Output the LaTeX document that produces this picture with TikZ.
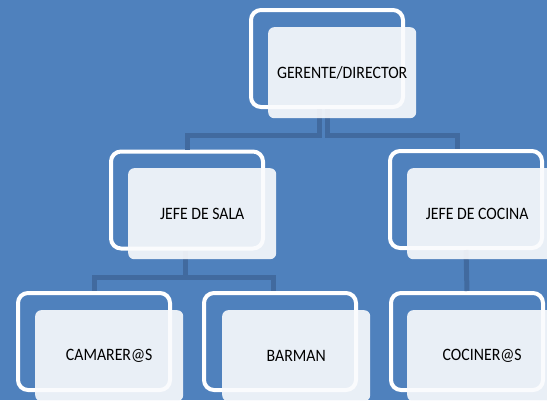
\documentclass[tikz,border=0pt]{standalone}
\usepackage{fontspec}
\setmainfont{Carlito}
\definecolor{bgblue}{RGB}{79,129,189}
\definecolor{connblue}{RGB}{65,106,159}
\definecolor{cardfill}{RGB}{250,251,253}
\newcommand{\cardtext}[1]{\scalebox{1}[1.1]{#1}}
\tikzset{
  frame/.style={draw=white, line width=4pt, rounded corners=10pt,
    minimum width=152pt, minimum height=97pt, inner sep=0pt, anchor=north west},
  card/.style={fill=cardfill, fill opacity=0.9, text opacity=1, rounded corners=6pt,
    minimum width=148pt, minimum height=91pt, inner sep=0pt, anchor=north west,
    font=\fontsize{15.8}{18}\selectfont, text=black},
  conn/.style={draw=connblue, line width=5pt}
}
\begin{document}
\begin{tikzpicture}[x=1pt,y=-1pt]
  \fill[bgblue] (0,0) rectangle (547,400);
  \useasboundingbox (0,0) rectangle (547,400);
  \begin{scope}
    \clip (0,0) rectangle (547,400);
    % outline frames (drawn first, behind the cards)
    \node[frame] (gerF)  at (249,8) {};
    \node[frame] (salaF) at (109,149.5) {};
    \node[frame] (cocF)  at (388,149) {};
    \node[frame] (camF)  at (16,291) {};
    \node[frame] (barF)  at (202,291) {};
    \node[frame] (cinF)  at (389,291) {};
    % connectors
    \draw[conn] ([xshift=-8pt]gerF.south) -- ++(0,26) -| (salaF.north);
    \draw[conn] (gerF.south) -- ++(0,26) -| ([xshift=-8.5pt]cocF.north);
    \draw[conn] ([xshift=-2pt]salaF.south) -- ++(0,27) -| (camF.north);
    \draw[conn] ([xshift=-2pt]salaF.south) -- ++(0,27) -| ([xshift=-6.5pt]barF.north);
    \draw[conn] (cocF.south) -- (cinF.north);
    % cards with the job titles
    \node[card] (ger)  at (268,27)  {\cardtext{GERENTE/DIRECTOR}};
    \node[card] (sala) at (128,168) {\cardtext{JEFE DE SALA}};
    \node[card] (coc)  at (407,168) {\hspace*{-8pt}\cardtext{JEFE DE COCINA}};
    \node[card] (cam)  at (35,310)  {\cardtext{CAMARER@S}};
    \node[card] (bar)  at (222,310) {\cardtext{BARMAN}};
    \node[card] (cin)  at (407,310) {\hspace*{2pt}\cardtext{COCINER@S}};
  \end{scope}
\end{tikzpicture}
\end{document}
